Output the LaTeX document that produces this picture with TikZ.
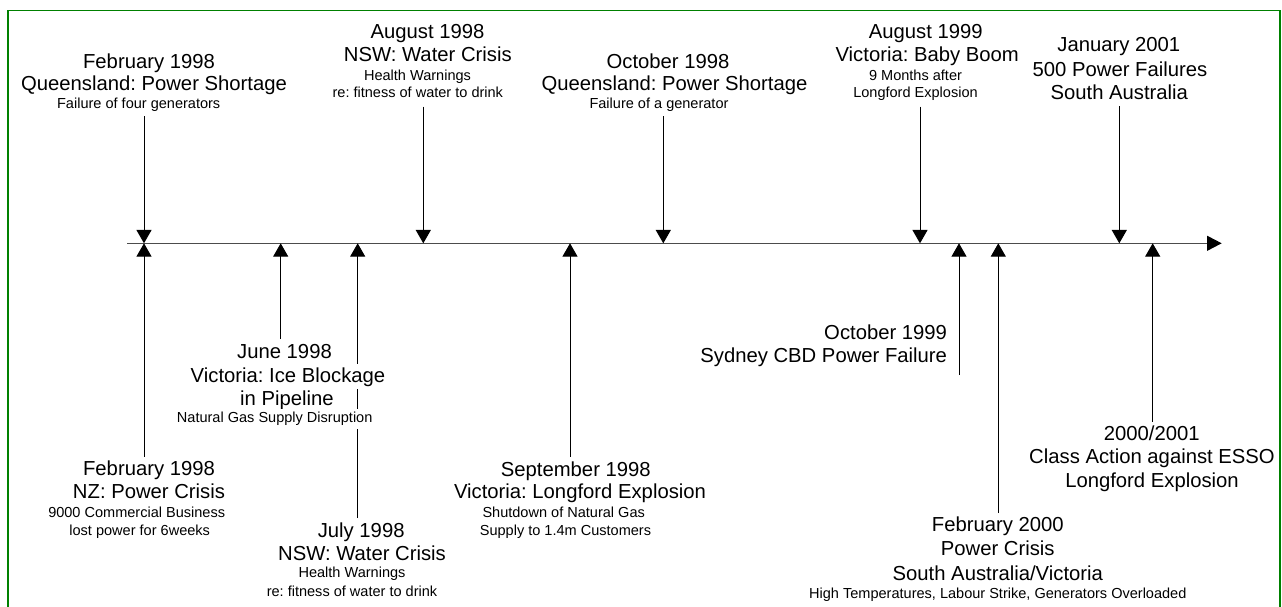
\documentclass[tikz,border=0pt]{standalone}
\usepackage{fontspec}
\setmainfont{Liberation Sans}
\usetikzlibrary{arrows.meta}
\definecolor{framegreen}{RGB}{0,128,0}
\frenchspacing
\tikzset{
  big/.style={anchor=base,inner sep=0pt,font=\frenchspacing\fontsize{15.2pt}{18pt}\selectfont},
  small/.style={anchor=base,inner sep=0pt,font=\frenchspacing\fontsize{10.9pt}{13pt}\selectfont},
  mask/.style={fill=white,inner xsep=0pt,inner ysep=2.3pt},
  evarrow/.style={line width=0.75pt,-{Triangle[length=10pt,width=11.25pt]}},
  axisline/.style={line width=0.75pt,draw=black!70,-{Triangle[length=11pt,width=11.25pt,color=black]}},
  frameline/.style={draw=framegreen,line width=0.9pt}
}
\begin{document}
\begin{tikzpicture}[x=0.75pt,y=-0.75pt]
\useasboundingbox (0,0) rectangle (1282,607);
\draw[frameline] (8,608) -- (8,10.7) -- (1280,10.7) -- (1280,608);

% axis
\coordinate (axL) at (127.3,243.3);
\coordinate (axR) at (1221.7,243.3);
\draw[axisline] (axL) -- (axR);

% arrow coordinates
\coordinate (sA) at (144,116);      \coordinate (tA) at (144,243.3);
\coordinate (sB) at (423.3,106.7);  \coordinate (tB) at (423.3,243.3);
\coordinate (sC) at (663.3,116);    \coordinate (tC) at (663.3,243.3);
\coordinate (sD) at (920,106.7);    \coordinate (tD) at (920,243.3);
\coordinate (sE) at (1119.3,106);   \coordinate (tE) at (1119.3,243.3);
\coordinate (sF) at (144,456.7);    \coordinate (tF) at (144,243.3);
\coordinate (sG) at (280.7,339);    \coordinate (tG) at (280.7,243.3);
\coordinate (sH) at (357.7,518);    \coordinate (tH) at (357.7,243.3);
\coordinate (sI) at (570,456.7);    \coordinate (tI) at (570,243.3);
\coordinate (sJ) at (959,375);      \coordinate (tJ) at (959,243.3);
\coordinate (sK) at (998.3,513);    \coordinate (tK) at (998.3,243.3);
\coordinate (sL) at (1152.7,421.7); \coordinate (tL) at (1152.7,243.3);

\foreach \n in {A,B,C,D,E,F,G,H,I,J,K,L} {\draw[evarrow] (s\n) -- (t\n);}

% top labels
\node[big]   (a1) at (149,68.3)  {February 1998};
\node[big]   (a2) at (154,90.7)  {Queensland: Power Shortage};
\node[small] (a3) at (138.7,108.3) {Failure of four generators};

\node[big]   (b1) at (427.5,38.3) {August 1998};
\node[big]   (b2) at (427.8,61.7) {NSW: Water Crisis};
\node[small] (b3) at (417.5,80)   {Health Warnings};
\node[small] (b4) at (417.8,97.3) {re: fitness of water to drink};

\node[big]   (c1) at (668,68.3)   {October 1998};
\node[big]   (c2) at (674.5,90.7) {Queensland: Power Shortage};
\node[small] (c3) at (659,108.3)  {Failure of a generator};

\node[big]   (d1) at (925.8,38.3) {August 1999};
\node[big]   (d2) at (927.2,61.7) {Victoria: Baby Boom};
\node[small] (d3) at (915.5,80)   {9 Months after};
\node[small] (d4) at (915.5,97.3) {Longford Explosion};

\node[big]   (e1) at (1118.8,51.7) {January 2001};
\node[big]   (e2) at (1120,76)     {500 Power Failures};
\node[big]   (e3) at (1119.3,99.3) {South Australia};

% bottom labels
\node[big]   (f1) at (149,475.7)   {February 1998};
\node[big]   (f2) at (149,498.7)   {NZ: Power Crisis};
\node[small] (f3) at (136.7,517)   {9000 Commercial Business};
\node[small] (f4) at (139.7,535)   {lost power for 6weeks};

\node[big]        (g1) at (284.5,358.7) {June 1998};
\node[big,mask]   (g2) at (288,382)     {Victoria: Ice Blockage};
\node[big]        (g3) at (287,405)     {in Pipeline};
\node[small,mask] (g4) at (274.7,422.7) {Natural Gas Supply Disruption};

\node[big]   (h1) at (361.2,537.3) {July 1998};
\node[big]   (h2) at (362,560)     {NSW: Water Crisis};
\node[small] (h3) at (352,577.3)   {Health Warnings};
\node[small] (h4) at (352,596)     {re: fitness of water to drink};

\node[big]   (i1) at (575.8,476)   {September 1998};
\node[big]   (i2) at (580,498.7)   {Victoria: Longford Explosion};
\node[small] (i3) at (563.7,517)   {Shutdown of Natural Gas};
\node[small] (i4) at (565.5,535)   {Supply to 1.4m Customers};

\node[big,anchor=base east] (j1) at (947.3,339)   {October 1999};
\node[big,anchor=base east] (j2) at (947.3,362.7) {Sydney CBD Power Failure};

\node[big]   (k1) at (997.8,531.7) {February 2000};
\node[big]   (k2) at (997.7,555.7) {Power Crisis};
\node[big]   (k3) at (997.8,580)   {South Australia/Victoria};
\node[small] (k4) at (997.8,598.3) {High Temperatures, Labour Strike, Generators Overloaded};

\node[big]   (l1) at (1151.7,440)  {2000/2001};
\node[big]   (l2) at (1152,463.3)  {Class Action against ESSO};
\node[big]   (l3) at (1152,487.7)  {Longford Explosion};
\end{tikzpicture}
\end{document}
